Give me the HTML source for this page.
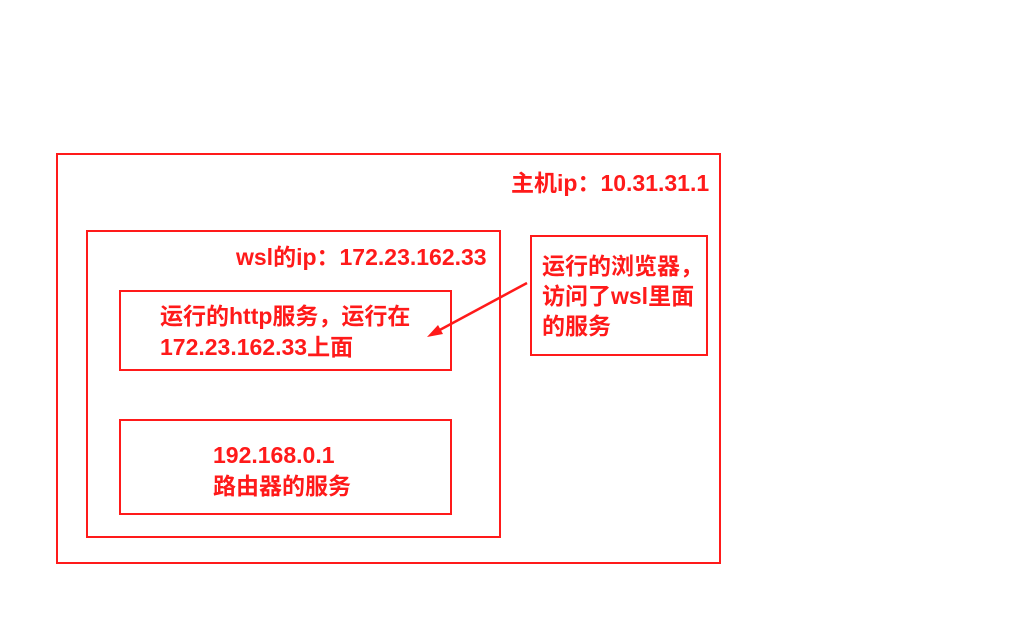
<!DOCTYPE html>
<html><head><meta charset="utf-8"><style>
html,body{margin:0;padding:0;background:#fff;width:1024px;height:621px;overflow:hidden;position:relative}
.b{position:absolute;border:2px solid #ff1a1a;box-sizing:border-box}
.t{position:absolute;color:#ff1a1a;font-weight:bold;font-size:23px;line-height:31px;font-family:"Liberation Sans","Noto Sans CJK SC",sans-serif;white-space:nowrap}
</style></head><body>
<div class="b" style="left:56px;top:153px;width:665px;height:411px"></div>
<div class="b" style="left:86px;top:230px;width:415px;height:308px"></div>
<div class="b" style="left:119px;top:290px;width:333px;height:81px"></div>
<div class="b" style="left:119px;top:419px;width:333px;height:96px"></div>
<div class="b" style="left:530px;top:235px;width:178px;height:121px"></div>
<div class="t" style="left:511px;top:168px">主机ip：10.31.31.1</div>
<div class="t" style="left:236px;top:242px">wsl的ip：172.23.162.33</div>
<div class="t" style="left:160px;top:301px">运行的http服务，运行在<br>172.23.162.33上面</div>
<div class="t" style="left:213px;top:440px">192.168.0.1<br>路由器的服务</div>
<div class="t" style="left:542px;top:251px;line-height:30px">运行的浏览器，<br>访问了wsl里面<br>的服务</div>
<svg width="1024" height="621" style="position:absolute;left:0;top:0">
<line x1="527" y1="283" x2="436" y2="332" stroke="#ff1a1a" stroke-width="2.5"/>
<polygon points="427,337 438,325 443,334" fill="#ff1a1a"/>
</svg>
</body></html>
